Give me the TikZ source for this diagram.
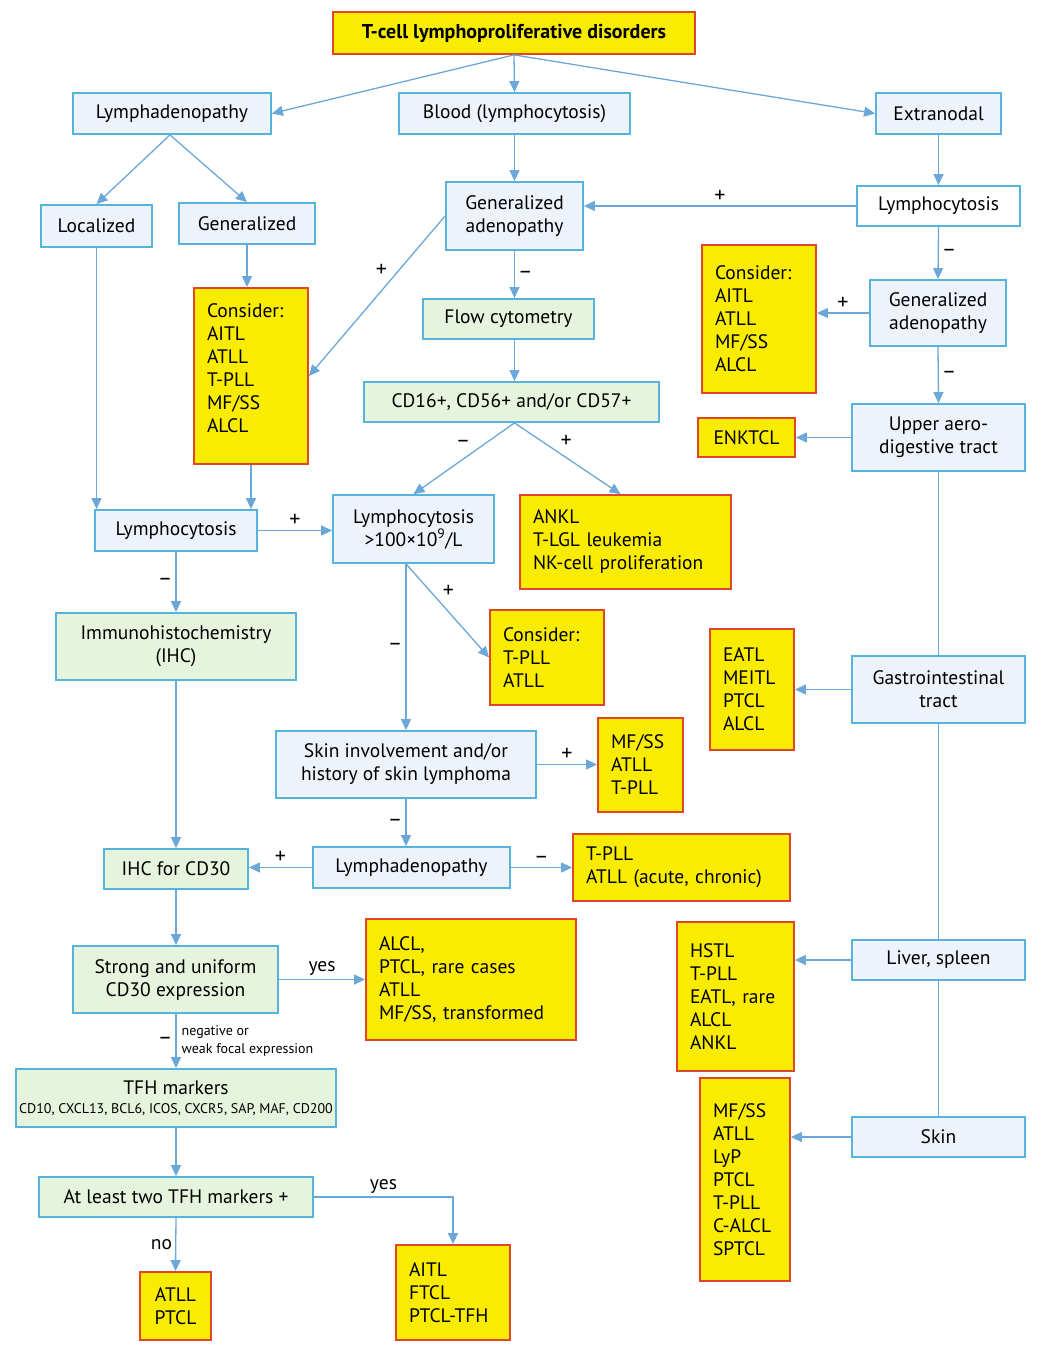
\documentclass[tikz,border=0pt]{standalone}
\usepackage{fontspec}
\setmainfont{PT Sans}
\usetikzlibrary{arrows.meta,calc}
\definecolor{bbord}{HTML}{55B4DA}
\definecolor{bfill}{HTML}{EEF2FA}
\definecolor{gfill}{HTML}{E6F4DE}
\definecolor{ybox}{HTML}{F9EC00}
\definecolor{rbord}{HTML}{E0462C}
\definecolor{acol}{HTML}{6CA7DA}
\begin{document}
\begin{tikzpicture}[x=1pt,y=-1pt,
  font=\fontsize{19.5}{23}\selectfont,
  base/.style={draw, line width=1.8pt, inner sep=0pt, align=center},
  bl/.style={base, draw=bbord, fill=bfill},
  gr/.style={base, draw=bbord, fill=gfill},
  wh/.style={base, draw=bbord, fill=white},
  yb/.style={base, draw=rbord, fill=ybox, align=left},
  ybc/.style={base, draw=rbord, fill=ybox, align=center},
  sz/.style 2 args={minimum width=#1, minimum height=#2},
  arr/.style={draw=acol, line width=1.3pt, -{Triangle[length=11pt,width=10pt]}},
  ln/.style={draw=acol, line width=1.3pt},
  lbl/.style={font=\fontsize{19.5}{20}\selectfont, inner sep=3pt},
  sg/.style={font=\fontsize{22}{22}\selectfont, inner sep=3pt},
  small/.style={font=\fontsize{14}{18}\selectfont, inner sep=5pt, align=left}]
\useasboundingbox (0,0) rectangle (1050,1356);

% nodes
\node[ybc, sz={362}{42}, font=\bfseries\fontsize{20}{22}\selectfont] (title) at (514,33) {T-cell lymphoproliferative disorders};
\node[bl, sz={198}{41}] (lymph) at (172,113.5) {Lymphadenopathy};
\node[bl, sz={231}{41}] (blood) at (514.5,113.5) {Blood (lymphocytosis)};
\node[bl, sz={125}{41}] (extra) at (938.5,113.5) {Extranodal};
\node[bl, sz={111}{42}] (loc) at (96.5,226) {Localized};
\node[bl, sz={136}{41}] (gen) at (247,223.5) {Generalized};
\node[bl, sz={137}{68}] (ga) at (514.5,216) {Generalized\\adenopathy};
\node[wh, sz={163}{40}] (lyr) at (938.5,206) {Lymphocytosis};
\node[yb, sz={114}{176}, text width=88] (c1) at (251,376) {Consider:\\AITL\\ATLL\\T-PLL\\MF/SS\\ALCL\\[-7pt]\mbox{}};
\node[gr, sz={171}{40}] (flow) at (508.5,319) {Flow cytometry};
\node[yb, sz={114}{148}, text width=88] (c2) at (759,319) {Consider:\\AITL\\ATLL\\MF/SS\\ALCL};
\node[bl, sz={136}{66}] (gar) at (938,313) {Generalized\\adenopathy};
\node[gr, sz={295}{40}] (cd) at (511.5,402) {CD16+, CD56+ and/or CD57+};
\node[ybc, sz={97}{39}] (enk) at (746.5,437.5) {ENKTCL};
\node[bl, sz={173}{67}] (upper) at (938.5,437.5) {Upper aero-\\digestive tract};
\node[bl, sz={162}{41}] (lyl) at (176,530.5) {Lymphocytosis};
\node[bl, sz={161}{68}] (l100) at (413.5,529) {Lymphocytosis\\>100×10\textsuperscript{9}/L};
\node[yb, sz={211}{94}, text width=185] (ankl) at (625.5,542) {ANKL\\T-LGL leukemia\\NK-cell proliferation};
\node[gr, sz={240}{67}] (ihc) at (176,646.5) {Immunohistochemistry\\(IHC)};
\node[yb, sz={114}{95}, text width=88] (c3) at (547,657.5) {Consider:\\T-PLL\\ATLL};
\node[yb, sz={84}{121}, text width=58] (eatl) at (752,689.5) {EATL\\MEITL\\PTCL\\ALCL};
\node[bl, sz={173}{67}] (gi) at (938.5,689.5) {Gastrointestinal\\tract};
\node[bl, sz={260}{67}] (skinv) at (406,764.5) {Skin involvement and/or\\history of skin lymphoma};
\node[yb, sz={85}{94}, text width=59] (mf1) at (640.5,765) {MF/SS\\ATLL\\T-PLL};
\node[gr, sz={144}{40}] (cd30) at (176,869) {IHC for CD30};
\node[bl, sz={197}{41}] (lym2) at (411.5,867.5) {Lymphadenopathy};
\node[yb, sz={217}{67}, text width=191] (tpll) at (681.5,867.5) {T-PLL\\ATLL (acute, chronic)};
\node[gr, sz={205}{67}] (strong) at (175.5,979.5) {Strong and uniform\\CD30 expression};
\node[yb, sz={210}{121}, text width=184] (alcl) at (471,979.5) {ALCL,\\PTCL, rare cases\\ATLL\\MF/SS, transformed};
\node[yb, sz={117}{149}, text width=91] (hstl) at (735.5,996.5) {HSTL\\T-PLL\\EATL, rare\\ALCL\\ANKL};
\node[bl, sz={173}{40}] (liver) at (938.5,960) {Liver, spleen};
\node[gr, sz={320}{58}] (tfh) at (176,1098) {TFH markers\\[-4pt]{\fontsize{14}{17}\selectfont CD10, CXCL13, BCL6, ICOS, CXCR5, SAP, MAF, CD200}};
\node[yb, sz={90}{203}, text width=64] (mf2) at (745,1179.5) {MF/SS\\ATLL\\LyP\\PTCL\\T-PLL\\C-ALCL\\SPTCL};
\node[bl, sz={173}{40}] (skin) at (938.5,1137) {Skin};
\node[gr, sz={274}{40}] (atl) at (176,1197) {At least two TFH markers +};
\node[ybc, sz={71}{68}] (atll) at (175.5,1306) {ATLL\\PTCL};
\node[yb, sz={114}{95}, text width=88] (aitl) at (453,1292.5) {AITL\\FTCL\\PTCL-TFH};

% connectors
\draw[arr] (title.south) -- (lymph.east);
\draw[arr] (title.south) -- (blood.north);
\draw[arr] (title.south) -- (extra.west);
\draw[arr] ($(lymph.south)+(-2,0)$) -- (loc.north);
\draw[arr] ($(lymph.south)+(-2,0)$) -- (gen.north);
\draw[arr] (blood.south) -- (ga.north);
\draw[arr] (extra.south) -- (lyr.north);
\draw[arr] (lyr.west) -- node[sg, above]{+} (lyr.west -| ga.east);
\draw[arr] (ga.west) -- node[sg, pos=0.4, above left]{+} (c1.east);
\draw[arr] (ga.south) -- node[sg, right]{--} (ga.south |- flow.north);
\draw[arr] (ga.south |- flow.south) -- (ga.south |- cd.north);
\draw[arr] (ga.south |- cd.south) -- node[sg, pos=0.4, above left]{--} (l100.north);
\draw[arr] (ga.south |- cd.south) -- node[sg, pos=0.4, above right]{+} ($(ankl.north)+(-5,0)$);
\draw[arr] (loc.south) -- (loc.south |- lyl.north);
\draw[arr] (gen.south) -- (gen.south |- c1.north);
\draw[arr] (c1.south) -- (c1.south |- lyl.north);
\draw[arr] (lyl.east) -- node[sg, above]{+} (lyl.east -| l100.west);
\draw[arr] (lyl.south) -- node[sg, left]{--} (ihc.north);
\draw[arr] (l100.south -| skinv.north) -- node[sg, left]{--} (skinv.north);
\draw[arr] (l100.south -| skinv.north) -- node[sg, pos=0.4, above right]{+} (c3.west);
\draw[arr] (ihc.south) -- (cd30.north);
\draw[arr] (skinv.south) -- node[sg, left]{--} (skinv.south |- lym2.north);
\draw[arr] (skinv.east) -- node[sg, above]{+} (mf1.west |- skinv.east);
\draw[arr] (lym2.west) -- node[sg, above]{+} (cd30.east |- lym2.west);
\draw[arr] (lym2.east) -- node[sg, above]{--} (tpll.west);
\draw[arr] (cd30.south) -- (cd30.south |- strong.north);
\draw[arr] (strong.east) -- node[lbl, above]{yes} (alcl.west);
\draw[arr] (cd30.south |- strong.south) -- node[sg, left]{--} node[small, right]{negative or\\weak focal expression} (tfh.north);
\draw[arr] (tfh.south) -- (atl.north);
\draw[arr] (atl.south) -- node[lbl, left]{no} (atll.north);
\draw[arr] (atl.east) -- node[lbl, above, pos=0.5]{yes} ($(atl.east -| aitl.north)$) -- (aitl.north);
\draw[arr] (gar.west) -- node[sg, above]{+} (c2.east |- gar.west);
\draw[arr] (lyr.south) -- node[sg, right]{--} (gar.north);
\draw[arr] (gar.south) -- node[sg, right]{--} (upper.north);
\draw[arr] (upper.west) -- (enk.east);
\draw[ln] (upper.south) -- (gi.north);
\draw[ln] (gi.south) -- (liver.north);
\draw[ln] (liver.south) -- (skin.north);
\draw[arr] (gi.west) -- (eatl.east);
\draw[arr] (liver.west) -- (hstl.east |- liver.west);
\draw[arr] (skin.west) -- (mf2.east |- skin.west);
\end{tikzpicture}
\end{document}
